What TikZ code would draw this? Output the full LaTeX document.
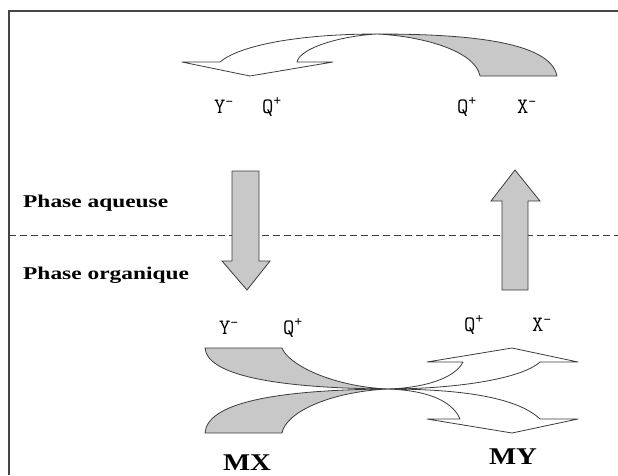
\documentclass[tikz,border=0pt]{standalone}
\usepackage{fontspec}
\setmainfont{Liberation Serif}
\definecolor{bandgray}{RGB}{200,200,200}
\definecolor{edgegray}{RGB}{60,60,60}
\definecolor{framegray}{RGB}{70,70,70}
\tikzset{
  band/.style={fill=bandgray, draw=edgegray, line width=0.8pt, line join=round},
  whiteband/.style={fill=white, draw=edgegray, line width=0.8pt, line join=round},
  blockarrow/.style={fill=bandgray, draw=edgegray, line width=0.8pt, line join=miter},
  ion/.style={font=\ttfamily\fontsize{22}{22}\selectfont, inner sep=0pt},
  phase/.style={font=\bfseries\fontsize{18}{18}\selectfont, inner sep=0pt, anchor=west},
  salt/.style={font=\bfseries\fontsize{24}{24}\selectfont, inner sep=0pt},
}
\begin{document}
\begin{tikzpicture}[x=1pt, y=-1pt]
\useasboundingbox (0,0) rectangle (618,475);

% frame (top and left edges)
\draw[framegray, line width=1.6pt] (9,475) -- (9,11) -- (618,11);

% interface between the two phases
\draw[edgegray, line width=0.9pt, dash pattern=on 7pt off 4pt] (9,235) -- (618,235);

% ---- aqueous phase: curved exchange arrow ----
% grey tail
\path[band] (480,76) -- (557,76)
  .. controls (550,40) and (460,34) .. (377,34)
  .. controls (420,36) and (475,50) .. (480,76) -- cycle;
% white part with head
\path[whiteband] (377,34)
  .. controls (300,34) and (240,45) .. (220,62)
  -- (182,62) -- (250,76) -- (333,62) -- (297,62)
  .. controls (300,48) and (340,36) .. (377,34) -- cycle;

\node[ion] (ya) at (224,107) {Y\textsuperscript{-}};
\node[ion] (qa) at (272,107) {Q\textsuperscript{+}};
\node[ion] (qb) at (467,107) {Q\textsuperscript{+}};
\node[ion] (xa) at (527,107) {X\textsuperscript{-}};

% ---- transfer arrows through the interface ----
\path[blockarrow] (232,171) -- (259,171) -- (259,261) -- (270,261)
  -- (247,290) -- (222,261) -- (232,261) -- cycle;
\path[blockarrow] (502,290) -- (528,290) -- (528,201) -- (540,201)
  -- (515,170) -- (491,201) -- (502,201) -- cycle;

\node[phase] (aq) at (23,203) {\scalebox{1.3}[1]{Phase aqueuse}};
\node[phase] (org) at (23,275) {\scalebox{1.3}[1]{Phase organique}};

% ---- organic phase: crossing exchange arrows ----
\coordinate (c) at (387,389);
% grey tails
\path[band] (205,348) -- (282,348)
  .. controls (288,364) and (330,386) .. (c)
  .. controls (270,388) and (207,374) .. (205,348) -- cycle;
\path[band] (205,433) -- (282,433)
  .. controls (286,412) and (330,392) .. (c)
  .. controls (270,390) and (207,404) .. (205,433) -- cycle;
% white heads
\path[whiteband] (c)
  .. controls (425,388) and (455,378) .. (463,362)
  -- (427,362) -- (512,348) -- (578,362) -- (540,362)
  .. controls (520,380) and (450,389) .. (c) -- cycle;
\path[whiteband] (c)
  .. controls (425,390) and (452,400) .. (460,419)
  -- (427,419) -- (512,433) -- (578,419) -- (540,419)
  .. controls (515,395) and (450,389) .. (c) -- cycle;

\node[ion] (yb) at (229,328) {Y\textsuperscript{-}};
\node[ion] (qc) at (293,328) {Q\textsuperscript{+}};
\node[ion] (qd) at (474,325) {Q\textsuperscript{+}};
\node[ion] (xb) at (542,325) {X\textsuperscript{-}};

\node[salt] (mx) at (247,463) {\scalebox{1.2}[1]{MX}};
\node[salt] (my) at (513,457) {\scalebox{1.2}[1]{MY}};
\end{tikzpicture}
\end{document}
